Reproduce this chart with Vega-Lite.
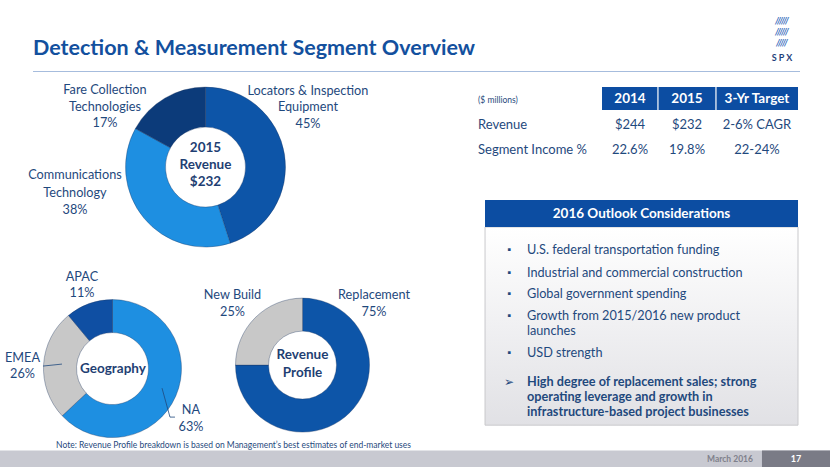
{
"$schema": "https://vega.github.io/schema/vega-lite/v6.json",
"width": 830,
"height": 467,
"autosize": {"type": "fit", "contains": "padding"},
"padding": 0,
"background": "#ffffff",
"config": {"view": {"stroke": null}, "font": "Lato", "text": {"color": "#1F497D", "font": "Lato"}},
"datasets": {
 "revenue": [
  {"segment": "Locators & Inspection Equipment", "share": 45, "ord": 1, "label": "Locators & Inspection\nEquipment\n45%"},
  {"segment": "Communications Technology", "share": 38, "ord": 2, "label": "Communications\nTechnology\n38%"},
  {"segment": "Fare Collection Technologies", "share": 17, "ord": 3, "label": "Fare Collection\nTechnologies\n17%"}
 ],
 "geography": [
  {"segment": "NA", "share": 63, "ord": 1, "label": "NA\n63%"},
  {"segment": "EMEA", "share": 26, "ord": 2, "label": "EMEA\n26%"},
  {"segment": "APAC", "share": 11, "ord": 3, "label": "APAC\n11%"}
 ],
 "profile": [
  {"segment": "Replacement", "share": 75, "ord": 1, "label": "Replacement\n75%"},
  {"segment": "New Build", "share": 25, "ord": 2, "label": "New Build\n25%"}
 ],
 "table": [
  {"row": "header", "col": "label", "value": "($ millions)"},
  {"row": "header", "col": "2014", "value": "2014"},
  {"row": "header", "col": "2015", "value": "2015"},
  {"row": "header", "col": "3-Yr Target", "value": "3-Yr Target"},
  {"row": "Revenue", "col": "label", "value": "Revenue"},
  {"row": "Revenue", "col": "2014", "value": "$244"},
  {"row": "Revenue", "col": "2015", "value": "$232"},
  {"row": "Revenue", "col": "3-Yr Target", "value": "2-6% CAGR"},
  {"row": "Segment Income %", "col": "label", "value": "Segment Income %"},
  {"row": "Segment Income %", "col": "2014", "value": "22.6%"},
  {"row": "Segment Income %", "col": "2015", "value": "19.8%"},
  {"row": "Segment Income %", "col": "3-Yr Target", "value": "22-24%"}
 ],
 "outlook": [
  {"item": 1, "bullet": "▪", "text": "U.S. federal transportation funding"},
  {"item": 2, "bullet": "▪", "text": "Industrial and commercial construction"},
  {"item": 3, "bullet": "▪", "text": "Global government spending"},
  {"item": 4, "bullet": "▪", "text": "Growth from 2015/2016 new product\nlaunches"},
  {"item": 5, "bullet": "▪", "text": "USD strength"},
  {"item": 6, "bullet": "➢", "text": "High degree of replacement sales; strong\noperating leverage and growth in\ninfrastructure-based project businesses"}
 ]
},
"layer": [
 {"data": {"values": [{}]}, "mark": {"type": "rect", "color": "#C8C9D1"},
  "encoding": {"x": {"datum": 0, "type": "quantitative", "scale": {"domain": [0, 960]}, "axis": null}, "x2": {"datum": 960},
               "y": {"datum": 521, "type": "quantitative", "scale": {"domain": [0, 540], "reverse": true}, "axis": null}, "y2": {"datum": 540}}},
 {"data": {"values": [{}]}, "mark": {"type": "rect", "color": "#7A7B86"},
  "encoding": {"x": {"datum": 881.3, "type": "quantitative", "scale": {"domain": [0, 960]}, "axis": null}, "x2": {"datum": 960},
               "y": {"datum": 521, "type": "quantitative", "scale": {"domain": [0, 540], "reverse": true}, "axis": null}, "y2": {"datum": 540}}},
 {"data": {"values": [{"t": "March 2016"}]}, "mark": {"type": "text", "fontSize": 8.5, "fontWeight": "bold", "color": "#80818C"},
  "encoding": {"x": {"datum": 844.3, "type": "quantitative", "scale": {"domain": [0, 960]}, "axis": null},
               "y": {"datum": 530.9, "type": "quantitative", "scale": {"domain": [0, 540], "reverse": true}, "axis": null}, "text": {"field": "t"}}},
 {"data": {"values": [{"t": "17"}]}, "mark": {"type": "text", "fontSize": 9, "fontWeight": "bold", "color": "#ffffff"},
  "encoding": {"x": {"datum": 920.6, "type": "quantitative", "scale": {"domain": [0, 960]}, "axis": null},
               "y": {"datum": 530.9, "type": "quantitative", "scale": {"domain": [0, 540], "reverse": true}, "axis": null}, "text": {"field": "t"}}},
 {"data": {"values": [{"t": "Detection & Measurement Segment Overview"}]}, "mark": {"type": "text", "align": "left", "baseline": "alphabetic", "fontSize": 21.5, "fontWeight": "bold", "color": "#13509E"},
  "encoding": {"x": {"datum": 38.2, "type": "quantitative", "scale": {"domain": [0, 960]}, "axis": null},
               "y": {"datum": 63.6, "type": "quantitative", "scale": {"domain": [0, 540], "reverse": true}, "axis": null}, "text": {"field": "t"}}},
 {"data": {"values": [{"t": "//////\n//////\n/////"}]}, "mark": {"type": "text", "lineBreak": "\n", "lineHeight": 11, "fontSize": 9, "fontWeight": "bold", "fontStyle": "italic", "color": "#2B5FB8"},
  "encoding": {"x": {"datum": 904.5, "type": "quantitative", "scale": {"domain": [0, 960]}, "axis": null},
               "y": {"datum": 24.5, "type": "quantitative", "scale": {"domain": [0, 540], "reverse": true}, "axis": null}, "text": {"field": "t"}}},
 {"data": {"values": [{"t": "S P X"}]}, "mark": {"type": "text", "fontSize": 9, "fontWeight": "bold", "color": "#1F3F7A"},
  "encoding": {"x": {"datum": 904.5, "type": "quantitative", "scale": {"domain": [0, 960]}, "axis": null},
               "y": {"datum": 67.6, "type": "quantitative", "scale": {"domain": [0, 540], "reverse": true}, "axis": null}, "text": {"field": "t"}}},
 {"data": {"values": [{}]}, "mark": {"type": "rule", "color": "#A6BCDD", "strokeWidth": 1.2},
  "encoding": {"x": {"datum": 38.2, "type": "quantitative", "scale": {"domain": [0, 960]}, "axis": null}, "x2": {"datum": 925.3},
               "y": {"datum": 82.7, "type": "quantitative", "scale": {"domain": [0, 540], "reverse": true}, "axis": null}}},

 {"data": {"name": "revenue"}, "transform": [{"stack": "share", "groupby": [], "sort": [{"field": "ord", "order": "ascending"}], "as": ["t0", "t1"]}],
  "mark": {"type": "arc", "radius": 80, "radius2": 40, "stroke": "#1B355E", "strokeWidth": 0.6, "strokeOpacity": 0.6},
  "encoding": {"x": {"datum": 237.7, "type": "quantitative", "scale": {"domain": [0, 960]}, "axis": null, "stack": false},
               "y": {"datum": 193.2, "type": "quantitative", "scale": {"domain": [0, 540], "reverse": true}, "axis": null, "stack": false},
               "theta": {"field": "t0", "type": "quantitative", "scale": {"domain": [0, 100]}}, "theta2": {"field": "t1"},
               "color": {"field": "segment", "type": "nominal", "legend": null, "scale": {"domain": ["Locators & Inspection Equipment", "Communications Technology", "Fare Collection Technologies", "NA", "EMEA", "APAC", "Replacement", "New Build"], "range": ["#0D55A8", "#1E8FE1", "#0C3B7A", "#1E8FE1", "#C8C8C8", "#0F4FA3", "#0D55A8", "#C8C8C8"]}}}},
 {"data": {"values": [{"t": "2015\nRevenue\n$232"}]}, "mark": {"type": "text", "lineBreak": "\n", "lineHeight": 17, "fontSize": 13.5, "fontWeight": "bold", "color": "#1F3F73"},
  "encoding": {"x": {"datum": 237.7, "type": "quantitative", "scale": {"domain": [0, 960]}, "axis": null},
               "y": {"datum": 171.2, "type": "quantitative", "scale": {"domain": [0, 540], "reverse": true}, "axis": null}, "text": {"field": "t"}}},

 {"data": {"name": "geography"}, "transform": [{"stack": "share", "groupby": [], "sort": [{"field": "ord", "order": "ascending"}], "as": ["t0", "t1"]}],
  "mark": {"type": "arc", "radius": 69, "radius2": 36, "stroke": "#1B355E", "strokeWidth": 0.6, "strokeOpacity": 0.6},
  "encoding": {"x": {"datum": 130.1, "type": "quantitative", "scale": {"domain": [0, 960]}, "axis": null, "stack": false},
               "y": {"datum": 426.2, "type": "quantitative", "scale": {"domain": [0, 540], "reverse": true}, "axis": null, "stack": false},
               "theta": {"field": "t0", "type": "quantitative", "scale": {"domain": [0, 100]}}, "theta2": {"field": "t1"},
               "color": {"field": "segment", "type": "nominal", "legend": null, "scale": {"domain": ["Locators & Inspection Equipment", "Communications Technology", "Fare Collection Technologies", "NA", "EMEA", "APAC", "Replacement", "New Build"], "range": ["#0D55A8", "#1E8FE1", "#0C3B7A", "#1E8FE1", "#C8C8C8", "#0F4FA3", "#0D55A8", "#C8C8C8"]}}}},
 {"data": {"values": [{"t": "Geography"}]}, "mark": {"type": "text", "fontSize": 13.5, "fontWeight": "bold", "color": "#1F3F73"},
  "encoding": {"x": {"datum": 130.7, "type": "quantitative", "scale": {"domain": [0, 960]}, "axis": null},
               "y": {"datum": 426.2, "type": "quantitative", "scale": {"domain": [0, 540], "reverse": true}, "axis": null}, "text": {"field": "t"}}},

 {"data": {"name": "profile"}, "transform": [{"stack": "share", "groupby": [], "sort": [{"field": "ord", "order": "ascending"}], "as": ["t0", "t1"]}],
  "mark": {"type": "arc", "radius": 67, "radius2": 34, "stroke": "#1B355E", "strokeWidth": 0.6, "strokeOpacity": 0.6},
  "encoding": {"x": {"datum": 349.9, "type": "quantitative", "scale": {"domain": [0, 960]}, "axis": null, "stack": false},
               "y": {"datum": 422.2, "type": "quantitative", "scale": {"domain": [0, 540], "reverse": true}, "axis": null, "stack": false},
               "theta": {"field": "t0", "type": "quantitative", "scale": {"domain": [0, 100]}}, "theta2": {"field": "t1"},
               "color": {"field": "segment", "type": "nominal", "legend": null, "scale": {"domain": ["Locators & Inspection Equipment", "Communications Technology", "Fare Collection Technologies", "NA", "EMEA", "APAC", "Replacement", "New Build"], "range": ["#0D55A8", "#1E8FE1", "#0C3B7A", "#1E8FE1", "#C8C8C8", "#0F4FA3", "#0D55A8", "#C8C8C8"]}}}},
 {"data": {"values": [{"t": "Revenue\nProfile"}]}, "mark": {"type": "text", "lineBreak": "\n", "lineHeight": 18, "fontSize": 13.5, "fontWeight": "bold", "color": "#1F3F73"},
  "encoding": {"x": {"datum": 349.9, "type": "quantitative", "scale": {"domain": [0, 960]}, "axis": null},
               "y": {"datum": 410.6, "type": "quantitative", "scale": {"domain": [0, 540], "reverse": true}, "axis": null}, "text": {"field": "t"}}},

 {"data": {"name": "revenue"}, "transform": [{"filter": {"field": "segment", "equal": "Fare Collection Technologies"}}], "mark": {"type": "text", "fontSize": 12.7, "lineBreak": "\n", "lineHeight": 16.5},
  "encoding": {"x": {"datum": 121.4, "type": "quantitative", "scale": {"domain": [0, 960]}, "axis": null},
               "y": {"datum": 104.1, "type": "quantitative", "scale": {"domain": [0, 540], "reverse": true}, "axis": null}, "text": {"field": "label"}}},
 {"data": {"name": "revenue"}, "transform": [{"filter": {"field": "segment", "equal": "Locators & Inspection Equipment"}}], "mark": {"type": "text", "fontSize": 12.7, "lineBreak": "\n", "lineHeight": 16.5},
  "encoding": {"x": {"datum": 356.2, "type": "quantitative", "scale": {"domain": [0, 960]}, "axis": null},
               "y": {"datum": 105.2, "type": "quantitative", "scale": {"domain": [0, 540], "reverse": true}, "axis": null}, "text": {"field": "label"}}},
 {"data": {"name": "revenue"}, "transform": [{"filter": {"field": "segment", "equal": "Communications Technology"}}], "mark": {"type": "text", "fontSize": 12.7, "lineBreak": "\n", "lineHeight": 17.5},
  "encoding": {"x": {"datum": 86.7, "type": "quantitative", "scale": {"domain": [0, 960]}, "axis": null},
               "y": {"datum": 202.4, "type": "quantitative", "scale": {"domain": [0, 540], "reverse": true}, "axis": null}, "text": {"field": "label"}}},
 {"data": {"name": "geography"}, "transform": [{"filter": {"field": "segment", "equal": "APAC"}}], "mark": {"type": "text", "fontSize": 12.7, "lineBreak": "\n", "lineHeight": 16},
  "encoding": {"x": {"datum": 94.8, "type": "quantitative", "scale": {"domain": [0, 960]}, "axis": null},
               "y": {"datum": 320.4, "type": "quantitative", "scale": {"domain": [0, 540], "reverse": true}, "axis": null}, "text": {"field": "label"}}},
 {"data": {"name": "geography"}, "transform": [{"filter": {"field": "segment", "equal": "EMEA"}}], "mark": {"type": "text", "fontSize": 12.7, "lineBreak": "\n", "lineHeight": 16},
  "encoding": {"x": {"datum": 26.0, "type": "quantitative", "scale": {"domain": [0, 960]}, "axis": null},
               "y": {"datum": 414.1, "type": "quantitative", "scale": {"domain": [0, 540], "reverse": true}, "axis": null}, "text": {"field": "label"}}},
 {"data": {"name": "geography"}, "transform": [{"filter": {"field": "segment", "equal": "NA"}}], "mark": {"type": "text", "fontSize": 12.7, "lineBreak": "\n", "lineHeight": 17},
  "encoding": {"x": {"datum": 220.9, "type": "quantitative", "scale": {"domain": [0, 960]}, "axis": null},
               "y": {"datum": 474.2, "type": "quantitative", "scale": {"domain": [0, 540], "reverse": true}, "axis": null}, "text": {"field": "label"}}},
 {"data": {"name": "profile"}, "transform": [{"filter": {"field": "segment", "equal": "New Build"}}], "mark": {"type": "text", "fontSize": 12.7, "lineBreak": "\n", "lineHeight": 17},
  "encoding": {"x": {"datum": 268.9, "type": "quantitative", "scale": {"domain": [0, 960]}, "axis": null},
               "y": {"datum": 341.2, "type": "quantitative", "scale": {"domain": [0, 540], "reverse": true}, "axis": null}, "text": {"field": "label"}}},
 {"data": {"name": "profile"}, "transform": [{"filter": {"field": "segment", "equal": "Replacement"}}], "mark": {"type": "text", "fontSize": 12.7, "lineBreak": "\n", "lineHeight": 17},
  "encoding": {"x": {"datum": 432.6, "type": "quantitative", "scale": {"domain": [0, 960]}, "axis": null},
               "y": {"datum": 341.2, "type": "quantitative", "scale": {"domain": [0, 540], "reverse": true}, "axis": null}, "text": {"field": "label"}}},
 {"data": {"values": [{}]}, "mark": {"type": "rule", "color": "#1F497D", "strokeWidth": 0.8},
  "encoding": {"x": {"datum": 49.7, "type": "quantitative", "scale": {"domain": [0, 960]}, "axis": null}, "x2": {"datum": 71.7},
               "y": {"datum": 423.3, "type": "quantitative", "scale": {"domain": [0, 540], "reverse": true}, "axis": null}, "y2": {"datum": 421.0}}},
 {"data": {"values": [{}]}, "mark": {"type": "rule", "color": "#1F497D", "strokeWidth": 0.8},
  "encoding": {"x": {"datum": 187.4, "type": "quantitative", "scale": {"domain": [0, 960]}, "axis": null}, "x2": {"datum": 196.6},
               "y": {"datum": 448.8, "type": "quantitative", "scale": {"domain": [0, 540], "reverse": true}, "axis": null}, "y2": {"datum": 482.3}}},
 {"data": {"values": [{}]}, "mark": {"type": "rule", "color": "#1F497D", "strokeWidth": 0.8},
  "encoding": {"x": {"datum": 196.6, "type": "quantitative", "scale": {"domain": [0, 960]}, "axis": null}, "x2": {"datum": 202.4},
               "y": {"datum": 482.3, "type": "quantitative", "scale": {"domain": [0, 540], "reverse": true}, "axis": null}}},
 {"data": {"values": [{"t": "Note: Revenue Profile breakdown is based on Management’s best estimates of end-market uses"}]}, "mark": {"type": "text", "fontSize": 8.5},
  "encoding": {"x": {"datum": 270.1, "type": "quantitative", "scale": {"domain": [0, 960]}, "axis": null},
               "y": {"datum": 514.7, "type": "quantitative", "scale": {"domain": [0, 540], "reverse": true}, "axis": null}, "text": {"field": "t"}}},

 {"data": {"values": [{}]}, "mark": {"type": "rect", "color": "#0C4DA2"},
  "encoding": {"x": {"datum": 696.3, "type": "quantitative", "scale": {"domain": [0, 960]}, "axis": null}, "x2": {"datum": 923.0},
               "y": {"datum": 100.6, "type": "quantitative", "scale": {"domain": [0, 540], "reverse": true}, "axis": null}, "y2": {"datum": 127.2}}},
 {"data": {"values": [{}]}, "mark": {"type": "rule", "color": "#ffffff", "strokeWidth": 1.2},
  "encoding": {"x": {"datum": 761.0, "type": "quantitative", "scale": {"domain": [0, 960]}, "axis": null},
               "y": {"datum": 100.6, "type": "quantitative", "scale": {"domain": [0, 540], "reverse": true}, "axis": null}, "y2": {"datum": 127.2}}},
 {"data": {"values": [{}]}, "mark": {"type": "rule", "color": "#ffffff", "strokeWidth": 1.2},
  "encoding": {"x": {"datum": 828.1, "type": "quantitative", "scale": {"domain": [0, 960]}, "axis": null},
               "y": {"datum": 100.6, "type": "quantitative", "scale": {"domain": [0, 540], "reverse": true}, "axis": null}, "y2": {"datum": 127.2}}},
 {"data": {"name": "table"}, "transform": [{"filter": "datum.row == 'header' && datum.col == '2014'"}], "mark": {"type": "text", "fontSize": 13.5, "fontWeight": "bold", "color": "#ffffff"},
  "encoding": {"x": {"datum": 728.7, "type": "quantitative", "scale": {"domain": [0, 960]}, "axis": null},
               "y": {"datum": 113.9, "type": "quantitative", "scale": {"domain": [0, 540], "reverse": true}, "axis": null}, "text": {"field": "value"}}},
 {"data": {"name": "table"}, "transform": [{"filter": "datum.row == 'header' && datum.col == '2015'"}], "mark": {"type": "text", "fontSize": 13.5, "fontWeight": "bold", "color": "#ffffff"},
  "encoding": {"x": {"datum": 794.6, "type": "quantitative", "scale": {"domain": [0, 960]}, "axis": null},
               "y": {"datum": 113.9, "type": "quantitative", "scale": {"domain": [0, 540], "reverse": true}, "axis": null}, "text": {"field": "value"}}},
 {"data": {"name": "table"}, "transform": [{"filter": "datum.row == 'header' && datum.col == '3-Yr Target'"}], "mark": {"type": "text", "fontSize": 13.5, "fontWeight": "bold", "color": "#ffffff"},
  "encoding": {"x": {"datum": 875.5, "type": "quantitative", "scale": {"domain": [0, 960]}, "axis": null},
               "y": {"datum": 113.9, "type": "quantitative", "scale": {"domain": [0, 540], "reverse": true}, "axis": null}, "text": {"field": "value"}}},
 {"data": {"name": "table"}, "transform": [{"filter": "datum.row == 'header' && datum.col == 'label'"}], "mark": {"type": "text", "align": "left", "fontSize": 8.5},
  "encoding": {"x": {"datum": 552.9, "type": "quantitative", "scale": {"domain": [0, 960]}, "axis": null},
               "y": {"datum": 115.7, "type": "quantitative", "scale": {"domain": [0, 540], "reverse": true}, "axis": null}, "text": {"field": "value"}}},
 {"data": {"name": "table"}, "transform": [{"filter": "datum.row == 'Revenue' && datum.col == 'label'"}], "mark": {"type": "text", "align": "left", "fontSize": 13},
  "encoding": {"x": {"datum": 552.9, "type": "quantitative", "scale": {"domain": [0, 960]}, "axis": null},
               "y": {"datum": 144.6, "type": "quantitative", "scale": {"domain": [0, 540], "reverse": true}, "axis": null}, "text": {"field": "value"}}},
 {"data": {"name": "table"}, "transform": [{"filter": "datum.row == 'Revenue' && datum.col == '2014'"}], "mark": {"type": "text", "fontSize": 13},
  "encoding": {"x": {"datum": 728.7, "type": "quantitative", "scale": {"domain": [0, 960]}, "axis": null},
               "y": {"datum": 144.6, "type": "quantitative", "scale": {"domain": [0, 540], "reverse": true}, "axis": null}, "text": {"field": "value"}}},
 {"data": {"name": "table"}, "transform": [{"filter": "datum.row == 'Revenue' && datum.col == '2015'"}], "mark": {"type": "text", "fontSize": 13},
  "encoding": {"x": {"datum": 794.6, "type": "quantitative", "scale": {"domain": [0, 960]}, "axis": null},
               "y": {"datum": 144.6, "type": "quantitative", "scale": {"domain": [0, 540], "reverse": true}, "axis": null}, "text": {"field": "value"}}},
 {"data": {"name": "table"}, "transform": [{"filter": "datum.row == 'Revenue' && datum.col == '3-Yr Target'"}], "mark": {"type": "text", "fontSize": 13},
  "encoding": {"x": {"datum": 875.5, "type": "quantitative", "scale": {"domain": [0, 960]}, "axis": null},
               "y": {"datum": 144.6, "type": "quantitative", "scale": {"domain": [0, 540], "reverse": true}, "axis": null}, "text": {"field": "value"}}},
 {"data": {"name": "table"}, "transform": [{"filter": "datum.row == 'Segment Income %' && datum.col == 'label'"}], "mark": {"type": "text", "align": "left", "fontSize": 13},
  "encoding": {"x": {"datum": 552.9, "type": "quantitative", "scale": {"domain": [0, 960]}, "axis": null},
               "y": {"datum": 173.5, "type": "quantitative", "scale": {"domain": [0, 540], "reverse": true}, "axis": null}, "text": {"field": "value"}}},
 {"data": {"name": "table"}, "transform": [{"filter": "datum.row == 'Segment Income %' && datum.col == '2014'"}], "mark": {"type": "text", "fontSize": 13},
  "encoding": {"x": {"datum": 728.7, "type": "quantitative", "scale": {"domain": [0, 960]}, "axis": null},
               "y": {"datum": 173.5, "type": "quantitative", "scale": {"domain": [0, 540], "reverse": true}, "axis": null}, "text": {"field": "value"}}},
 {"data": {"name": "table"}, "transform": [{"filter": "datum.row == 'Segment Income %' && datum.col == '2015'"}], "mark": {"type": "text", "fontSize": 13},
  "encoding": {"x": {"datum": 794.6, "type": "quantitative", "scale": {"domain": [0, 960]}, "axis": null},
               "y": {"datum": 173.5, "type": "quantitative", "scale": {"domain": [0, 540], "reverse": true}, "axis": null}, "text": {"field": "value"}}},
 {"data": {"name": "table"}, "transform": [{"filter": "datum.row == 'Segment Income %' && datum.col == '3-Yr Target'"}], "mark": {"type": "text", "fontSize": 13},
  "encoding": {"x": {"datum": 875.5, "type": "quantitative", "scale": {"domain": [0, 960]}, "axis": null},
               "y": {"datum": 173.5, "type": "quantitative", "scale": {"domain": [0, 540], "reverse": true}, "axis": null}, "text": {"field": "value"}}},

 {"data": {"values": [{}]}, "mark": {"type": "rect", "stroke": "#C9C9CC", "strokeWidth": 1, "color": {"gradient": "linear", "x1": 0, "y1": 0, "x2": 0, "y2": 1, "stops": [{"offset": 0, "color": "#FFFFFF"}, {"offset": 1, "color": "#E1E1E5"}]}},
  "encoding": {"x": {"datum": 561.0, "type": "quantitative", "scale": {"domain": [0, 960]}, "axis": null}, "x2": {"datum": 923.0},
               "y": {"datum": 262.5, "type": "quantitative", "scale": {"domain": [0, 540], "reverse": true}, "axis": null}, "y2": {"datum": 491.6}}},
 {"data": {"values": [{}]}, "mark": {"type": "rect", "color": "#0C4DA2"},
  "encoding": {"x": {"datum": 561.0, "type": "quantitative", "scale": {"domain": [0, 960]}, "axis": null}, "x2": {"datum": 923.0},
               "y": {"datum": 231.3, "type": "quantitative", "scale": {"domain": [0, 540], "reverse": true}, "axis": null}, "y2": {"datum": 262.5}}},
 {"data": {"values": [{"t": "2016 Outlook Considerations"}]}, "mark": {"type": "text", "fontSize": 13.5, "fontWeight": "bold", "color": "#ffffff"},
  "encoding": {"x": {"datum": 742.0, "type": "quantitative", "scale": {"domain": [0, 960]}, "axis": null},
               "y": {"datum": 246.9, "type": "quantitative", "scale": {"domain": [0, 540], "reverse": true}, "axis": null}, "text": {"field": "t"}}},

 {"data": {"name": "outlook"}, "transform": [{"filter": "datum.item == 1"}], "layer": [
  {"mark": {"type": "text", "fontSize": 10}, "encoding": {"x": {"datum": 588.7, "type": "quantitative", "scale": {"domain": [0, 960]}, "axis": null}, "y": {"datum": 289.2, "type": "quantitative", "scale": {"domain": [0, 540], "reverse": true}, "axis": null}, "text": {"field": "bullet"}}},
  {"mark": {"type": "text", "align": "left", "fontSize": 12.7, "lineBreak": "\n", "lineHeight": 15}, "encoding": {"x": {"datum": 609.5, "type": "quantitative", "scale": {"domain": [0, 960]}, "axis": null}, "y": {"datum": 289.2, "type": "quantitative", "scale": {"domain": [0, 540], "reverse": true}, "axis": null}, "text": {"field": "text"}}}
 ]},
 {"data": {"name": "outlook"}, "transform": [{"filter": "datum.item == 2"}], "layer": [
  {"mark": {"type": "text", "fontSize": 10}, "encoding": {"x": {"datum": 588.7, "type": "quantitative", "scale": {"domain": [0, 960]}, "axis": null}, "y": {"datum": 315.8, "type": "quantitative", "scale": {"domain": [0, 540], "reverse": true}, "axis": null}, "text": {"field": "bullet"}}},
  {"mark": {"type": "text", "align": "left", "fontSize": 12.7, "lineBreak": "\n", "lineHeight": 15}, "encoding": {"x": {"datum": 609.5, "type": "quantitative", "scale": {"domain": [0, 960]}, "axis": null}, "y": {"datum": 315.8, "type": "quantitative", "scale": {"domain": [0, 540], "reverse": true}, "axis": null}, "text": {"field": "text"}}}
 ]},
 {"data": {"name": "outlook"}, "transform": [{"filter": "datum.item == 3"}], "layer": [
  {"mark": {"type": "text", "fontSize": 10}, "encoding": {"x": {"datum": 588.7, "type": "quantitative", "scale": {"domain": [0, 960]}, "axis": null}, "y": {"datum": 340.0, "type": "quantitative", "scale": {"domain": [0, 540], "reverse": true}, "axis": null}, "text": {"field": "bullet"}}},
  {"mark": {"type": "text", "align": "left", "fontSize": 12.7, "lineBreak": "\n", "lineHeight": 15}, "encoding": {"x": {"datum": 609.5, "type": "quantitative", "scale": {"domain": [0, 960]}, "axis": null}, "y": {"datum": 340.0, "type": "quantitative", "scale": {"domain": [0, 540], "reverse": true}, "axis": null}, "text": {"field": "text"}}}
 ]},
 {"data": {"name": "outlook"}, "transform": [{"filter": "datum.item == 4"}], "layer": [
  {"mark": {"type": "text", "fontSize": 10}, "encoding": {"x": {"datum": 588.7, "type": "quantitative", "scale": {"domain": [0, 960]}, "axis": null}, "y": {"datum": 365.5, "type": "quantitative", "scale": {"domain": [0, 540], "reverse": true}, "axis": null}, "text": {"field": "bullet"}}},
  {"mark": {"type": "text", "align": "left", "fontSize": 12.7, "lineBreak": "\n", "lineHeight": 15}, "encoding": {"x": {"datum": 609.5, "type": "quantitative", "scale": {"domain": [0, 960]}, "axis": null}, "y": {"datum": 365.5, "type": "quantitative", "scale": {"domain": [0, 540], "reverse": true}, "axis": null}, "text": {"field": "text"}}}
 ]},
 {"data": {"name": "outlook"}, "transform": [{"filter": "datum.item == 5"}], "layer": [
  {"mark": {"type": "text", "fontSize": 10}, "encoding": {"x": {"datum": 588.7, "type": "quantitative", "scale": {"domain": [0, 960]}, "axis": null}, "y": {"datum": 408.3, "type": "quantitative", "scale": {"domain": [0, 540], "reverse": true}, "axis": null}, "text": {"field": "bullet"}}},
  {"mark": {"type": "text", "align": "left", "fontSize": 12.7, "lineBreak": "\n", "lineHeight": 15}, "encoding": {"x": {"datum": 609.5, "type": "quantitative", "scale": {"domain": [0, 960]}, "axis": null}, "y": {"datum": 408.3, "type": "quantitative", "scale": {"domain": [0, 540], "reverse": true}, "axis": null}, "text": {"field": "text"}}}
 ]},
 {"data": {"name": "outlook"}, "transform": [{"filter": "datum.item == 6"}], "layer": [
  {"mark": {"type": "text", "fontSize": 12}, "encoding": {"x": {"datum": 588.7, "type": "quantitative", "scale": {"domain": [0, 960]}, "axis": null}, "y": {"datum": 441.8, "type": "quantitative", "scale": {"domain": [0, 540], "reverse": true}, "axis": null}, "text": {"field": "bullet"}}},
  {"mark": {"type": "text", "align": "left", "fontSize": 12.7, "fontWeight": "bold", "lineBreak": "\n", "lineHeight": 15}, "encoding": {"x": {"datum": 609.5, "type": "quantitative", "scale": {"domain": [0, 960]}, "axis": null}, "y": {"datum": 441.8, "type": "quantitative", "scale": {"domain": [0, 540], "reverse": true}, "axis": null}, "text": {"field": "text"}}}
 ]}
]
}
